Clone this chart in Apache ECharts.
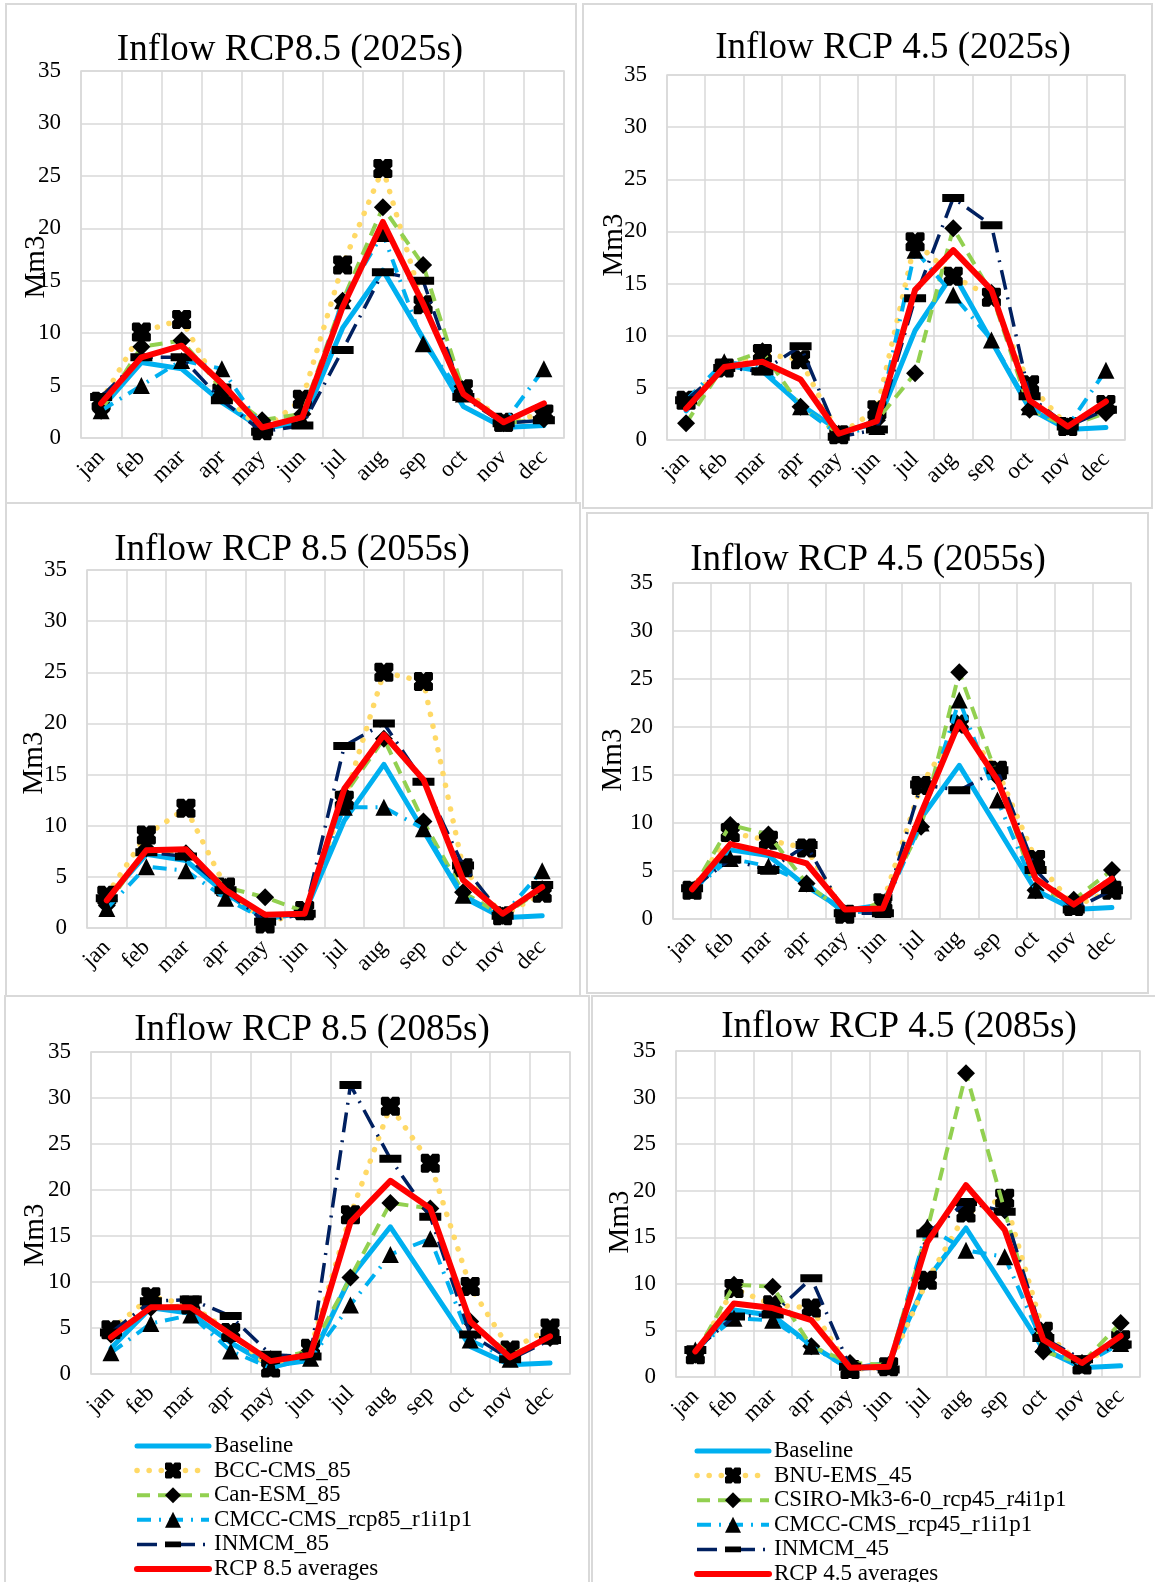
<!DOCTYPE html>
<html>
<head>
<meta charset="utf-8">
<title>Inflow RCP scenarios</title>
<script src="https://cdn.jsdelivr.net/npm/echarts@6/dist/echarts.min.js"></script>
<style>
  html, body { margin: 0; padding: 0; background: #fff; overflow: hidden; }
  #main-chart { width: 1155px; height: 1600px; }
</style>
</head>
<body>
<div id="main-chart"></div>
<script>
// month categories
const months = ['jan', 'feb', 'mar', 'apr', 'may', 'jun', 'jul', 'aug', 'sep', 'oct', 'nov', 'dec'];
const yTicks = [0, 35, 5]; // min, max, step

// baseline inflow (same in every panel)
const baseline = [2.8, 7.2, 6.6, 3.4, 0.9, 1.5, 10.5, 16.0, 9.5, 3.0, 1.0, 1.2];

// RCP 8.5 models
const bcc85_2025 = [3.5, 10.1, 11.3, 4.3, 0.7, 3.7, 16.5, 25.7, 12.7, 4.7, 1.5, 2.3];
const can85_2025 = [2.6, 8.7, 9.3, 4.7, 1.7, 2.3, 13.1, 22.0, 16.5, 4.5, 1.4, 1.8];
const cmcc85_2025 = [2.6, 5.0, 7.4, 6.6, 1.0, 1.7, 13.1, 19.5, 9.0, 4.2, 1.4, 6.6];
const inm85_2025 = [3.9, 7.7, 7.7, 3.6, 0.6, 1.2, 8.4, 15.8, 15.0, 3.9, 1.4, 1.7];
const avg85_2025 = [3.3, 7.7, 8.8, 5.2, 1.0, 2.0, 12.5, 20.6, 12.8, 4.2, 1.5, 3.3];

const bcc85_2055 = [3.2, 9.1, 11.7, 4.0, 0.4, 1.7, 12.5, 25.0, 24.1, 5.9, 1.2, 3.4];
const can85_2055 = [2.2, 7.8, 7.3, 4.0, 3.0, 1.6, 13.0, 18.5, 10.4, 3.5, 1.2, 3.8];
const cmcc85_2055 = [1.9, 6.0, 5.6, 2.9, 0.8, 1.6, 11.8, 11.8, 9.7, 3.2, 1.2, 5.6];
const inm85_2055 = [2.9, 7.4, 7.0, 3.7, 0.6, 1.4, 17.8, 20.0, 14.3, 6.1, 1.2, 4.2];
const avg85_2055 = [2.7, 7.6, 7.7, 3.7, 1.3, 1.4, 13.6, 18.9, 14.5, 4.7, 1.4, 4.0];

const bcc85_2085 = [4.8, 8.4, 7.5, 4.5, 0.65, 2.8, 17.3, 29.1, 22.9, 9.5, 2.6, 5.0];
const can85_2085 = [4.3, 7.2, 7.5, 4.1, 1.6, 2.5, 10.5, 18.6, 18.0, 5.7, 2.1, 3.9];
const cmcc85_2085 = [2.3, 5.5, 6.4, 2.5, 0.65, 1.7, 7.5, 13.0, 14.7, 3.7, 1.6, 4.1];
const inm85_2085 = [4.5, 7.9, 8.1, 6.3, 2.1, 1.9, 31.4, 23.4, 17.1, 4.3, 1.6, 3.7];
const avg85_2085 = [4.0, 7.25, 7.25, 4.3, 1.4, 2.1, 16.5, 21.0, 18.0, 5.7, 1.8, 4.1];

// RCP 4.5 models
const bnu45_2025 = [3.8, 6.9, 8.3, 7.7, 0.5, 2.9, 19.0, 15.7, 13.7, 5.3, 1.3, 3.4];
const csiro45_2025 = [1.6, 7.2, 8.5, 3.2, 0.6, 1.9, 6.4, 20.3, 14.1, 2.9, 1.3, 2.6];
const cmcc45_2025 = [3.8, 7.5, 7.0, 3.2, 0.5, 1.3, 18.2, 13.9, 9.6, 3.2, 1.3, 6.7];
const inm45_2025 = [3.8, 6.9, 6.6, 9.0, 0.3, 1.0, 13.6, 23.2, 20.6, 4.2, 1.3, 2.9];
const avg45_2025 = [3.0, 7.0, 7.5, 5.8, 0.6, 1.8, 14.4, 18.2, 14.4, 3.8, 1.3, 3.7];

const bnu45_2055 = [3.0, 9.0, 8.2, 7.4, 0.5, 1.7, 13.9, 20.3, 15.5, 6.2, 1.3, 3.0];
const csiro45_2055 = [3.0, 9.8, 8.8, 3.7, 0.6, 1.7, 9.6, 25.7, 14.8, 3.0, 2.0, 5.1];
const cmcc45_2055 = [3.0, 6.3, 5.5, 3.7, 0.6, 1.0, 10.0, 22.8, 12.4, 3.0, 1.3, 4.1];
const inm45_2055 = [3.2, 6.2, 5.1, 7.7, 0.6, 0.6, 14.0, 13.4, 15.5, 5.1, 1.0, 3.0];
const avg45_2055 = [3.1, 7.8, 6.9, 5.8, 1.0, 1.1, 11.0, 20.5, 14.5, 4.2, 1.5, 4.2];

const bnu45_2085 = [2.4, 9.5, 7.75, 7.4, 0.8, 1.1, 10.4, 17.6, 19.2, 4.9, 1.3, 4.0];
const csiro45_2085 = [2.4, 9.9, 9.7, 3.3, 1.5, 1.3, 15.8, 32.6, 17.9, 2.75, 1.5, 5.8];
const cmcc45_2085 = [2.9, 6.3, 6.1, 3.3, 0.8, 1.1, 16.1, 13.6, 12.9, 3.5, 1.3, 3.6];
const inm45_2085 = [2.9, 6.5, 6.7, 10.6, 1.1, 0.8, 15.4, 18.8, 17.75, 4.2, 1.9, 3.5];
const avg45_2085 = [2.75, 7.9, 7.4, 6.1, 1.0, 1.1, 14.5, 20.6, 15.8, 4.0, 1.5, 4.4];

// series names
const names85 = ['Baseline', 'BCC-CMS_85', 'Can-ESM_85', 'CMCC-CMS_rcp85_r1i1p1', 'INMCM_85', 'RCP 8.5 averages'];
const names45 = ['Baseline', 'BNU-EMS_45', 'CSIRO-Mk3-6-0_rcp45_r4i1p1', 'CMCC-CMS_rcp45_r1i1p1', 'INMCM_45', 'RCP 4.5 averages'];

const FONT = '"Liberation Serif", "Times New Roman", serif';
const GRID_COLOR = '#D9D9D9';
// chunky square with a notch on each side (the excel marker look)
const notched = 'path://M1,0H6.3L8,1.8L9.7,0H15L16,1V6.3L14.2,8L16,9.7V15L15,16H9.7L8,14.2L6.3,16H1L0,15V9.7L1.8,8L0,6.3V1Z';
// flat bar inside a square box (tiny corner specks keep the box square, so the legend shows a bar too)
const bar = 'path://M0,0L0.01,0L0,0.01Z M0,7H22V15H0Z M22,22L21.99,22L22,21.99Z';

// line look for each of the 6 series slots
const looks = [
  { color: '#00B0F0', width: 5, type: 'solid', cap: 'round', symbol: 'none' },
  { color: '#FFD966', width: 5.5, type: [0.1, 12], cap: 'round', symbol: notched, size: 19 },
  { color: '#92D050', width: 4, type: [13, 8], cap: 'butt', symbol: 'diamond', size: 18 },
  { color: '#00B0F0', width: 4, type: [14, 8, 2, 8], cap: 'butt', symbol: 'triangle', size: 17 },
  { color: '#002060', width: 3.5, type: [20, 8, 2, 8], cap: 'butt', symbol: bar, size: 22 },
  { color: '#FF0000', width: 6, type: 'solid', cap: 'round', symbol: 'none' }
];

// panel layout: grid box, title centre, y-name centre, outer frame
const panels = [
  { title: 'Inflow RCP8.5 (2025s)', names: names85, data: [baseline, bcc85_2025, can85_2025, cmcc85_2025, inm85_2025, avg85_2025],
    box: [81, 71, 483, 367], tx: 290, ty: 47, nx: 36, ny: 267, frame: [6, 4, 576, 503] },
  { title: 'Inflow RCP 4.5 (2025s)', names: names45, data: [baseline, bnu45_2025, csiro45_2025, cmcc45_2025, inm45_2025, avg45_2025],
    box: [667, 75, 458, 365], tx: 893, ty: 45, nx: 614, ny: 245, frame: [583, 4, 1152, 508] },
  { title: 'Inflow RCP 8.5 (2055s)', names: names85, data: [baseline, bcc85_2055, can85_2055, cmcc85_2055, inm85_2055, avg85_2055],
    box: [87, 570, 475, 358], tx: 292, ty: 547, nx: 34, ny: 763, frame: [6, 503, 580, 996] },
  { title: 'Inflow RCP 4.5 (2055s)', names: names45, data: [baseline, bnu45_2055, csiro45_2055, cmcc45_2055, inm45_2055, avg45_2055],
    box: [673, 583, 458, 336], tx: 868, ty: 557, nx: 613, ny: 760, frame: [587, 513, 1148, 993] },
  { title: 'Inflow RCP 8.5 (2085s)', names: names85, data: [baseline, bcc85_2085, can85_2085, cmcc85_2085, inm85_2085, avg85_2085],
    box: [91, 1052, 479, 322], tx: 312, ty: 1027, nx: 35, ny: 1235, frame: [5, 996, 589, 1595] },
  { title: 'Inflow RCP 4.5 (2085s)', names: names45, data: [baseline, bnu45_2085, csiro45_2085, cmcc45_2085, inm45_2085, avg45_2085],
    box: [676, 1051, 464, 326], tx: 899, ty: 1024, nx: 620, ny: 1222, frame: [592, 996, 1160, 1595] }
];

const grids = [], xAxes = [], yAxes = [], series = [], titles = [], graphics = [];

panels.forEach((p, i) => {
  grids.push({
    left: p.box[0], top: p.box[1], width: p.box[2], height: p.box[3],
    show: true, borderColor: GRID_COLOR, borderWidth: 1.5,
    containLabel: false, outerBoundsMode: 'none'
  });
  xAxes.push({
    type: 'category', gridIndex: i, data: months, boundaryGap: true,
    axisLine: { show: false }, axisTick: { show: false },
    splitLine: { show: true, interval: 0, lineStyle: { color: GRID_COLOR, width: 1.5 } },
    axisLabel: { interval: 0, rotate: 45, margin: 16, fontFamily: FONT, fontSize: 23, color: '#000' }
  });
  yAxes.push({
    type: 'value', gridIndex: i, min: yTicks[0], max: yTicks[1], interval: yTicks[2],
    axisLine: { show: false }, axisTick: { show: false },
    splitLine: { show: true, lineStyle: { color: GRID_COLOR, width: 1.5 } },
    axisLabel: { margin: 20, fontFamily: FONT, fontSize: 23, color: '#000' }
  });
  titles.push({
    text: p.title, left: p.tx, top: p.ty - 15, textAlign: 'center', padding: 0,
    textStyle: { fontFamily: FONT, fontSize: 37, fontWeight: 'normal', color: '#000' }
  });
  graphics.push({
    type: 'text', x: p.nx, y: p.ny, rotation: Math.PI / 2, silent: true,
    style: { text: 'Mm3', font: '29px ' + FONT, fill: '#000', textAlign: 'center', textVerticalAlign: 'middle' }
  });
  graphics.push({
    type: 'rect', silent: true, z: -1,
    shape: { x: p.frame[0], y: p.frame[1], width: p.frame[2] - p.frame[0], height: p.frame[3] - p.frame[1] },
    style: { fill: null, stroke: GRID_COLOR, lineWidth: 2 }
  });
  p.data.forEach((vals, k) => {
    const lk = looks[k];
    series.push({
      name: p.names[k], type: 'line', xAxisIndex: i, yAxisIndex: i,
      data: vals,
      symbol: lk.symbol, symbolSize: lk.size, symbolKeepAspect: false, showAllSymbol: true,
      lineStyle: { color: lk.color, width: lk.width, type: lk.type, cap: lk.cap, join: 'round' },
      itemStyle: { color: '#000', borderWidth: 0 },
      emphasis: { disabled: true },
      z: 2 + k
    });
  });
});

// legend entries copy the line look (legend would otherwise thin the lines)
const legendItems = names => names.map((n, k) => ({
  name: n,
  lineStyle: { color: looks[k].color, width: looks[k].width, type: looks[k].type, cap: looks[k].cap },
  itemStyle: looks[k].symbol === 'none' ? { opacity: 0 } : { color: '#000', borderWidth: 0 }
}));

const legendBase = {
  orient: 'vertical', itemWidth: 72, itemHeight: 20, itemGap: 0.6, padding: 0,
  symbolKeepAspect: true,
  textStyle: { fontFamily: FONT, fontSize: 23, color: '#000', lineHeight: 24 }
};

const myChart = echarts.init(document.getElementById('main-chart'));
myChart.setOption({
  animation: false,
  backgroundColor: '#fff',
  title: titles,
  grid: grids,
  xAxis: xAxes,
  yAxis: yAxes,
  legend: [
    Object.assign({}, legendBase, { left: 134, top: 1434, data: legendItems(names85) }),
    Object.assign({}, legendBase, { left: 694, top: 1439, data: legendItems(names45) })
  ],
  graphic: graphics,
  series: series
});
</script>
</body>
</html>
